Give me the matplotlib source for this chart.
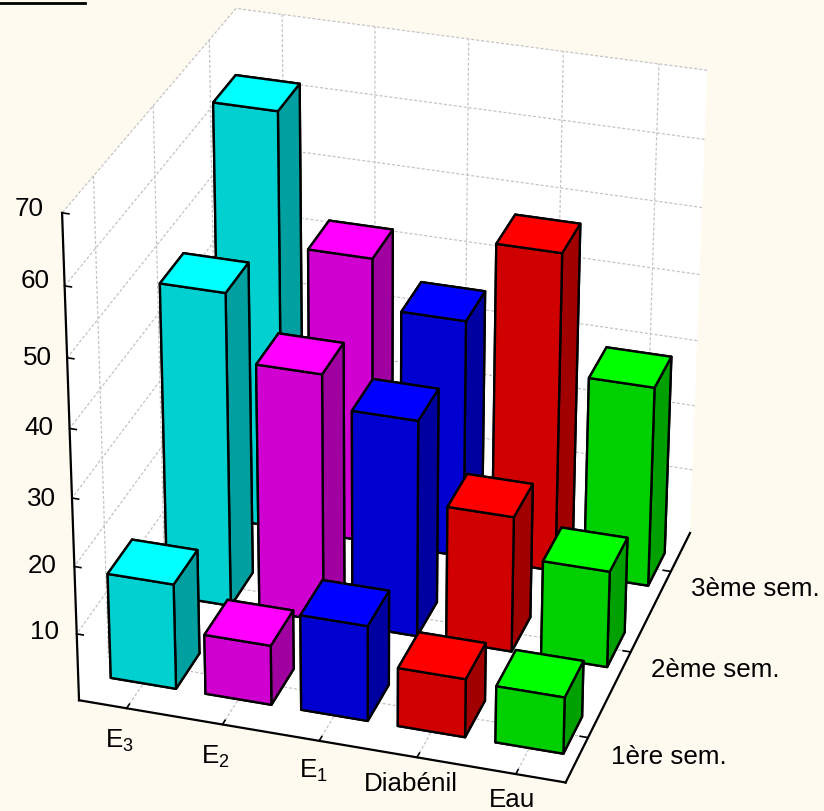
import numpy as np
import matplotlib
matplotlib.use("Agg")
import matplotlib.pyplot as plt
from matplotlib.lines import Line2D

plt.rcParams['font.family'] = ['Liberation Sans', 'DejaVu Sans']
plt.rcParams['mathtext.fontset'] = 'custom'
plt.rcParams['mathtext.rm'] = 'Liberation Sans'
plt.rcParams['mathtext.default'] = 'regular'

# data
treatments = ['E$_3$', 'E$_2$', 'E$_1$', 'Diabénil', 'Eau']
semesters = ['1ère sem.', '2ème sem.', '3ème sem.']
sem1 = [15.7, 8.9, 14.2, 8.7, 8.4]
sem2 = [47, 37.2, 32.5, 20.4, 14.5]
sem3 = [63.2, 43.5, 36.2, 48.3, 30.4]
z_ticks = [10, 20, 30, 40, 50, 60, 70]

# top, front and side shade of each treatment
tops = ['#00ffff', '#ff00ff', '#0000ff', '#ff0000', '#00ff00']
fronts = ['#00d0d0', '#d000d0', '#0000d0', '#d00000', '#00d000']
sides = ['#00a0a0', '#a000a0', '#0000a0', '#a00000', '#00a000']

W, H = 824, 811
BG = '#fffaf0'
GRID = '#c4c4c4'
DASH = (0, (2.4, 1.6))

fig = plt.figure(figsize=(W / 100, H / 100), dpi=100, facecolor=BG)
ax = fig.add_axes([0, 0, 1, 1], projection='3d', facecolor=BG)
ax.set_xlim(0.5, 5.5, view_margin=0)
ax.set_ylim(0.5, 3.5, view_margin=0)
ax.set_zlim(0, 70, view_margin=0)
ax.apply_aspect()

# camera fitted on where the box corners and ticks sit on the page
anchors = np.array([
    (0.5, 0.5, 0, 78, 701), (5.5, 0.5, 0, 567, 783), (5.5, 3.5, 0, 693, 533),
    (0.5, 0.5, 70, 62, 212), (0.5, 3.5, 70, 236, 9), (5.5, 3.5, 70, 707, 70),
    (1, 0.5, 0, 127, 706), (2, 0.5, 0, 223, 724), (3, 0.5, 0, 320, 740),
    (4, 0.5, 0, 418, 757), (5, 0.5, 0, 517, 775),
    (5.5, 1, 0, 585, 738), (5.5, 2, 0, 629, 652), (5.5, 3, 0, 669, 571),
    (0.5, 0.5, 10, 76, 635), (0.5, 0.5, 20, 74, 568), (0.5, 0.5, 30, 72, 498),
    (0.5, 0.5, 40, 70, 428), (0.5, 0.5, 50, 67, 358), (0.5, 0.5, 60, 65, 286),
])
rows, rhs = [], []
for x, y, z, px, py in anchors:
    u, v = px, H - py
    rows.append([x, y, z, 1, 0, 0, 0, 0, -u * x, -u * y, -u * z])
    rows.append([0, 0, 0, 0, x, y, z, 1, -v * x, -v * y, -v * z])
    rhs += [u, v]
sol = np.linalg.lstsq(np.array(rows, float), np.array(rhs, float), rcond=None)[0]
cam = np.append(sol, 1).reshape(3, 4)
cam = ax.transData.inverted().get_matrix() @ cam
proj = np.array([cam[0], cam[1], [-0.05, 0.1, -0.005, 0], cam[2]])
ax.get_proj = lambda: proj

# walls and grid
for axis in (ax.xaxis, ax.yaxis, ax.zaxis):
    axis.set_pane_color('white')
    axis.pane.set_edgecolor('none')
    axis._axinfo['grid'].update(color=GRID, linewidth=0.9, linestyle=DASH)
    axis.line.set_color('black')
    axis.line.set_linewidth(1.6)
    axis._axinfo['tick'].update(inward_factor=0.0, outward_factor=0.2, color='black')
    axis._axinfo['tick']['linewidth'] = {True: 1.2, False: 1.2}
ax.zaxis._axinfo['juggled'] = (1, 2, 0)
# z ticks point into the left wall
ax.zaxis._axinfo['tick'].update(inward_factor=0.17, outward_factor=0.0)

ax.set_xticks(range(1, 6))
ax.set_yticks(range(1, 4))
ax.set_zticks(z_ticks)
ax.set_xticklabels([])
ax.set_yticklabels([])
ax.set_zticklabels([])

# far vertical edges of the walls
for corner_x in (0.5, 5.5):
    ax.plot([corner_x, corner_x], [3.5, 3.5], [0, 70], color=GRID, lw=0.9, ls=DASH, zorder=1)

# bars, back row first
bar_w, bar_d = 0.69, 0.42
values = [sem1, sem2, sem3]
order = 10
for j in (2, 1, 0):
    for i in range(5):
        faces = [fronts[i], tops[i], fronts[i], fronts[i], sides[i], sides[i]]
        ax.bar3d(i + 1 - bar_w / 2, j + 1 - bar_d / 2, 0, bar_w, bar_d, values[j][i],
                 color=faces, edgecolor='black', linewidth=1.7, shade=False, zorder=order)
        order += 1
ax.computed_zorder = False

# tick labels, placed by hand around the box
to_fig = lambda px, py: (px / W, 1 - py / H)
fs = 18.7
x_label_pos = [(119, 741), (215, 757), (313, 771), (411, 784), (512, 800)]
for lab, (px, py) in zip(treatments, x_label_pos):
    fig.text(*to_fig(px, py), lab, fontsize=fs, ha='center', va='center')
y_label_pos = [(611, 757), (651, 670), (691, 589)]
for lab, (px, py) in zip(semesters, y_label_pos):
    fig.text(*to_fig(px, py), lab, fontsize=fs, ha='left', va='center')
z_label_pos = [(30, 632), (27, 566), (26, 499), (24, 428), (22, 358), (20, 281), (14, 209)]
for tick, (px, py) in zip(z_ticks, z_label_pos):
    fig.text(*to_fig(px + 15, py), str(tick), fontsize=fs, ha='center', va='center')

# rule under the cut-off heading
fig.add_artist(Line2D([0, 85 / W], [1 - 3 / H, 1 - 3 / H], color='black', lw=2.0))

fig.savefig('out.png', dpi=100, facecolor=BG)
